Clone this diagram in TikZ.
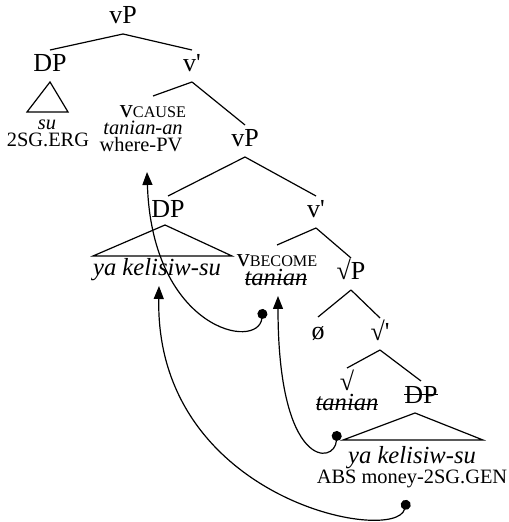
\documentclass[tikz,border=0pt]{standalone}
\usepackage{fontspec}
\setmainfont{Liberation Serif}
\usetikzlibrary{positioning,arrows.meta}

\begin{document}
\begin{tikzpicture}[x=0.5pt,y=-0.5pt,on grid,
    every node/.style={inner sep=0pt,outer sep=0pt,text height=11pt,text depth=5pt},
    lbl/.style={font=\fontsize{13}{15}\selectfont},
    wd/.style={font=\fontsize{12.3}{14}\selectfont\itshape},
    gl/.style={font=\fontsize{10.2}{12}\selectfont},
    gli/.style={font=\fontsize{10.2}{12}\selectfont\itshape},
    strike/.style={line width=0.5pt},
    mv/.style={line width=0.6pt,{Circle[length=5pt]}-{Triangle[length=6.5pt,width=5pt]}}] %
    \useasboundingbox (0,0) rectangle (508,522);
    \tikzset{every path/.append style={line width=0.6pt}}
    \newcommand{\smc}[1]{{\fontsize{8.1}{9}\selectfont #1}}
    % upper vP
    \node[lbl] (vp1) at (123,18) {vP} ; %
    \node[lbl, below=24pt of vp1, xshift=-36.5pt] (dp1) {DP} ; %
    \node[lbl, below=24pt of vp1, xshift=34.5pt] (vb1) {v\textquotesingle} ; %
    \node[gli, below=29pt of dp1, xshift=-1.5pt] (su) {su} ; %
    \node[gl, below=8.5pt of su, xshift=0.5pt] (erg) {2SG.ERG} ; %
    \node[lbl, below=23pt of vb1, xshift=-19.5pt] (vcause) {v\smc{CAUSE}} ; %
    \node[gli, below=8.5pt of vcause, xshift=-5pt] (tanianan) {tanian-an} ; %
    \node[gl, below=8.5pt of tanianan, xshift=-1pt] (wherepv) {where-PV} ; %
    % lower vP
    \node[lbl, below=37.5pt of vb1, xshift=26.5pt] (vp2) {vP} ; %
    \node[lbl, below=35.5pt of vp2, xshift=-38.5pt] (dp2) {DP} ; %
    \node[lbl, below=35.5pt of vp2, xshift=35.5pt] (vb2) {v\textquotesingle} ; %
    \node[wd, below=29pt of dp2, xshift=-5.5pt] (yakel1) {ya kelisiw-su} ; %
    \node[lbl, below=24.5pt of vb2, xshift=-19.5pt] (vbecome) {v\smc{BECOME}} ; %
    \node[wd, below=9.5pt of vbecome, xshift=-0.5pt] (tanian1) {tanian} ; %
    % root
    \node[lbl, below=31pt of vb2, xshift=17.5pt] (sqp) {√P} ; %
    \node[lbl, below=29.5pt of sqp, xshift=-16.5pt] (oslash) {ø} ; %
    \node[lbl, below=30pt of sqp, xshift=14.5pt] (sqb) {√\textquotesingle} ; %
    \node[lbl, below=25pt of sqb, xshift=-16.5pt] (sqr) {√} ; %
    \node[wd, below=10pt of sqr] (tanian2) {tanian} ; %
    \node[lbl, below=31.5pt of sqb, xshift=20.5pt] (dp3) {DP} ; %
    \node[wd, below=30pt of dp3, xshift=-4.5pt] (yakel2) {ya kelisiw-su} ; %
    \node[gl, below=10pt of yakel2] (absg) {ABS money-2SG.GEN} ; %
    % deleted copies
    \draw[strike] (tanian1.west) -- (tanian1.east) ; %
    \draw[strike] (tanian2.west) -- (tanian2.east) ; %
    \draw[strike] ([yshift=1.2pt]dp3.west) -- ([yshift=1.2pt]dp3.east) ; %
    % branches
    \draw (vp1.south) -- (dp1.north) ; %
    \draw (vp1.south) -- (vb1.north) ; %
    \draw (vb1.south) -- (vcause.north) ; %
    \draw (vb1.south) -- (vp2.north) ; %
    \draw (vp2.south) -- (dp2.north) ; %
    \draw (vp2.south) -- (vb2.north) ; %
    \draw (vb2.south) -- (vbecome.north) ; %
    \draw (vb2.south) -- (sqp.north) ; %
    \draw (sqp.south) -- (oslash.north) ; %
    \draw (sqp.south) -- (sqb.north) ; %
    \draw (sqb.south) -- (sqr.north) ; %
    \draw (sqb.south) -- (dp3.north) ; %
    % triangles
    \draw (dp1.south) -- ++(-23,30) -- ++(41,0) -- cycle ; %
    \draw ([shift={(-3,-3)}]dp2.south) -- ++(-72,31) -- ++(139,0) -- cycle ; %
    \draw ([xshift=-3pt]dp3.south) -- ++(-72,27) -- ++(140,0) -- cycle ; %
    % movement
    \coordinate (dot1) at ([shift={(-13,13)}]tanian1.south) ; %
    \coordinate (dot2) at ([shift={(-10,11)}]tanian2.south) ; %
    \coordinate (dot3) at ([shift={(-5,7)}]absg.south) ; %
    \draw[mv] (dot1) .. controls +(-5,42) and +(5,158) .. ([shift={(6,10)}]wherepv.south) ; %
    \draw[mv] (dot2) .. controls +(-2,34) and +(0,174) .. ([xshift=1pt]tanian1.south) ; %
    \draw[mv] (dot3) .. controls +(-12,45) and +(-4,214) .. ([xshift=1pt]yakel1.south) ; %
\end{tikzpicture}
\end{document}
